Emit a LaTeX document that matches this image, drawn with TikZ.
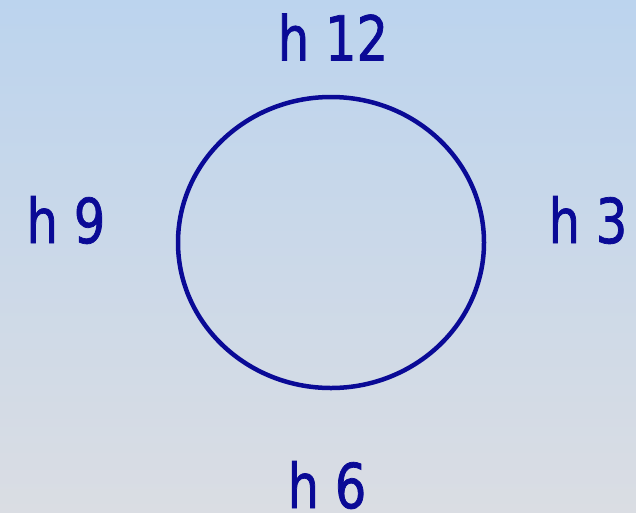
\documentclass[tikz,border=0pt]{standalone}
\usepackage{fontspec}
\newfontfamily\lblfont[FakeStretch=0.8,FakeBold=1.2]{DejaVu Sans}
\definecolor{ink}{RGB}{10,10,150}
\definecolor{bgtop}{RGB}{188,212,238}
\definecolor{bgbot}{RGB}{218,221,227}
\begin{document}
\begin{tikzpicture}[x=1pt,y=-1pt,
  lbl/.style={text=ink,inner sep=0pt,font=\lblfont\fontsize{62}{70}\selectfont}]
\shade[top color=bgtop,bottom color=bgbot] (0,0) rectangle (636,512);
\useasboundingbox (0,0) rectangle (636,512);
\draw[ink,line width=4.5pt] (331,242.5) ellipse [x radius=153,y radius=145.5];
\node[lbl] (n12) at (333,37) {h 12};
\node[lbl] (n9) at (66,220) {h 9};
\node[lbl] (n3) at (588,220) {h 3};
\node[lbl] (n6) at (327,485) {h 6};
\end{tikzpicture}
\end{document}
